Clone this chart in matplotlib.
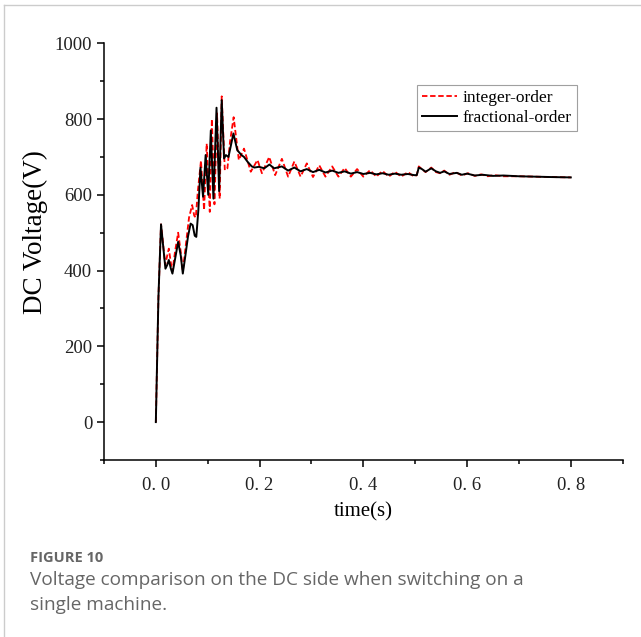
import numpy as np
import matplotlib
matplotlib.use('Agg')
import matplotlib.pyplot as plt
from matplotlib.lines import Line2D
from matplotlib.ticker import MultipleLocator

#================================================================
# DC side voltage, integer-order vs fractional-order control

# fractional-order (black, solid)
t_frac = [0.000, 0.005, 0.010, 0.013, 0.0185, 0.022, 0.025, 0.029, 0.032, 0.037,
          0.043, 0.048, 0.052, 0.057, 0.062, 0.067, 0.071, 0.075, 0.078, 0.082,
          0.086, 0.091, 0.096, 0.101, 0.106, 0.111, 0.117, 0.122, 0.127, 0.1315,
          0.135, 0.140, 0.1496, 0.157, 0.165, 0.170, 0.177, 0.185, 0.190, 0.199,
          0.209, 0.219, 0.228, 0.243, 0.255, 0.267, 0.279, 0.291, 0.303, 0.315,
          0.327, 0.340, 0.352, 0.364, 0.376, 0.388, 0.400, 0.413, 0.425, 0.437,
          0.449, 0.461, 0.473, 0.486, 0.498, 0.503, 0.507, 0.513, 0.520, 0.531,
          0.540, 0.548, 0.556, 0.566, 0.580, 0.590, 0.600, 0.615, 0.630, 0.650,
          0.670, 0.700, 0.730, 0.760, 0.800]
v_frac = [0, 330, 522, 480, 405, 415, 428, 405, 392, 430,
          476, 440, 392, 440, 490, 524, 520, 492, 489, 560,
          672, 595, 705, 600, 770, 590, 830, 610, 850, 696,
          705, 700, 762, 718, 705, 700, 687, 675, 672, 674,
          670, 680, 670, 675, 664, 672, 662, 668, 660, 666,
          659, 664, 658, 662, 656, 660, 655, 658, 654, 657,
          653, 656, 653, 655, 652, 652, 672, 668, 661, 670,
          662, 658, 662, 655, 658, 653, 656, 651, 653, 650,
          651, 649, 648, 647, 646]

# integer-order (red, dashed)
t_int = [0.000, 0.005, 0.010, 0.013, 0.018, 0.022, 0.025, 0.029, 0.032, 0.037,
         0.043, 0.048, 0.052, 0.058, 0.064, 0.070, 0.074, 0.077, 0.081, 0.087,
         0.093, 0.098, 0.104, 0.108, 0.113, 0.118, 0.123, 0.127, 0.133, 0.138,
         0.143, 0.150, 0.160, 0.170, 0.183, 0.196, 0.2045, 0.2186, 0.230, 0.243,
         0.255, 0.267, 0.279, 0.291, 0.303, 0.315, 0.327, 0.340, 0.352, 0.364,
         0.376, 0.388, 0.400, 0.413, 0.425, 0.437, 0.449, 0.461, 0.473, 0.486,
         0.498, 0.503, 0.507, 0.513, 0.520, 0.531, 0.540, 0.548, 0.556, 0.566,
         0.578, 0.590, 0.602, 0.615, 0.627, 0.640, 0.652, 0.670, 0.700, 0.730,
         0.760, 0.800]
v_int = [0, 330, 522, 485, 415, 440, 458, 420, 398, 450,
         500, 450, 398, 470, 540, 573, 545, 540, 610, 690,
         560, 735, 555, 800, 575, 815, 590, 860, 665, 670,
         740, 805, 692, 722, 661, 692, 657, 700, 652, 695,
         648, 688, 648, 683, 647, 678, 648, 675, 648, 671,
         648, 668, 648, 665, 648, 663, 648, 661, 648, 660,
         648, 652, 675, 668, 660, 672, 660, 657, 664, 653,
         660, 651, 657, 650, 654, 649, 652, 649, 649, 648,
         647, 646]

x_ticks = [0.0, 0.2, 0.4, 0.6, 0.8]
x_ticklabels = ['0. 0', '0. 2', '0. 4', '0. 6', '0. 8']
y_ticks = [0, 200, 400, 600, 800, 1000]

serif = 'Liberation Serif'

fig = plt.figure(figsize=(6.41, 6.37), dpi=100)
ax = fig.add_axes([0.1622, 0.2779, 0.8092, 0.6541])

ax.plot(t_int, v_int, color='red', linestyle=(0, (3, 1.5)), linewidth=1.3,
        label='integer-order', zorder=2)
ax.plot(t_frac, v_frac, color='black', linewidth=1.4,
        label='fractional-order', zorder=3)

ax.set_xlim(-0.1, 0.9)
ax.set_ylim(-100, 1000)
ax.spines['top'].set_visible(False)
ax.spines['right'].set_visible(False)
ax.spines['left'].set_linewidth(1.1)
ax.spines['bottom'].set_linewidth(1.1)

ax.set_xticks(x_ticks)
ax.set_xticklabels(x_ticklabels)
ax.set_yticks(y_ticks)
ax.xaxis.set_minor_locator(MultipleLocator(0.1))
ax.yaxis.set_minor_locator(MultipleLocator(100))
ax.tick_params(which='major', direction='out', length=5, width=1.1,
               labelsize=13.5, colors='black', labelcolor='#222222')
ax.tick_params(axis='x', which='major', pad=7)
ax.tick_params(which='minor', direction='out', length=3, width=1.1)
for lab in ax.get_xticklabels() + ax.get_yticklabels():
    lab.set_fontfamily(serif)

ax.set_xlabel('time(s)', fontsize=15, fontfamily=serif, labelpad=6)
ax.set_ylabel('DC Voltage(V)', fontsize=19.5, fontfamily=serif)
ax.yaxis.set_label_coords(-0.107, 0.547)

leg = ax.legend(loc='upper right', bbox_to_anchor=(0.911, 0.900),
                borderaxespad=0, fancybox=False, edgecolor='#888888',
                prop={'family': serif, 'size': 12.5}, handlelength=2.0,
                handletextpad=0.3, borderpad=0.3, labelspacing=0.2)
leg.get_frame().set_linewidth(0.8)

# caption
fig.text(30 / 641, 1 - 558 / 637, 'FIGURE 10', fontsize=10.5, fontweight='bold',
         color='#666666', fontfamily='Open Sans', va='center')
fig.text(30 / 641, 1 - 580 / 637,
         'Voltage comparison on the DC side when switching on a',
         fontsize=13.7, color='#666666', fontfamily='Open Sans', va='center')
fig.text(30 / 641, 1 - 605 / 637, 'single machine.',
         fontsize=13.7, color='#666666', fontfamily='Open Sans', va='center')

# page border
fig.add_artist(Line2D([4 / 641, 1], [1 - 5 / 637, 1 - 5 / 637],
                      transform=fig.transFigure, color='#cccccc', linewidth=1))
fig.add_artist(Line2D([4 / 641, 4 / 641], [0, 1 - 5 / 637],
                      transform=fig.transFigure, color='#cccccc', linewidth=1))

fig.savefig('out.png', dpi=100)
